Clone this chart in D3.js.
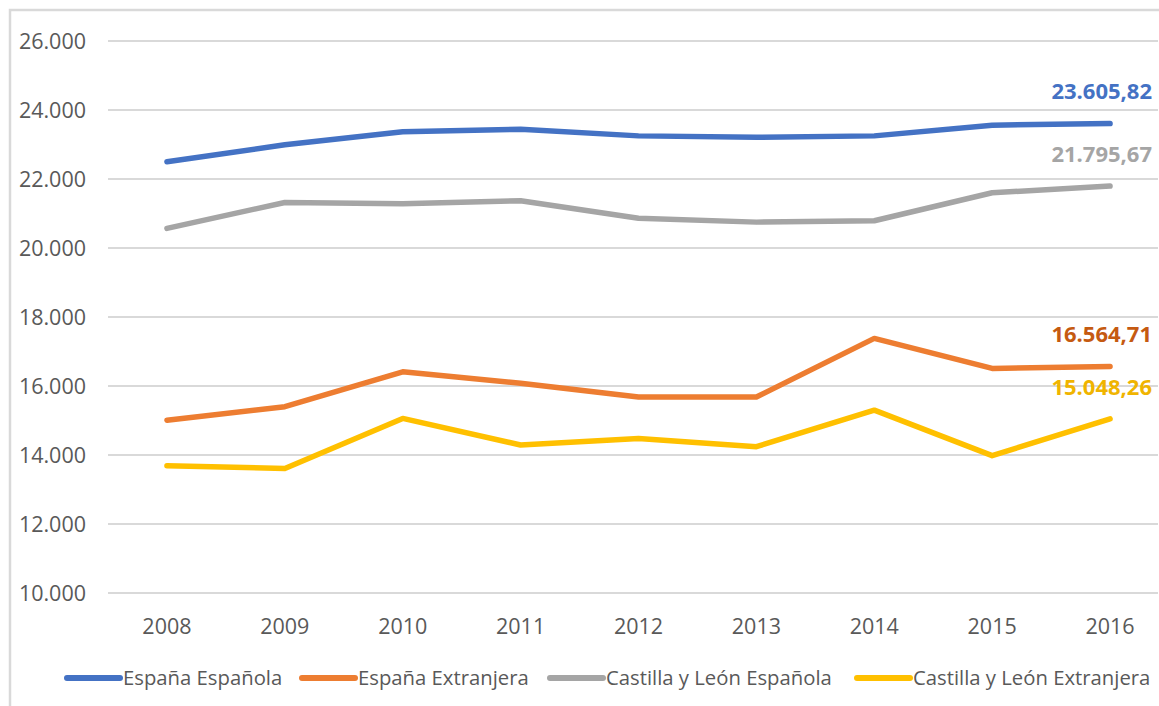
<!DOCTYPE html>
<html><head><meta charset="utf-8">
<script src="https://cdn.jsdelivr.net/npm/d3@7"></script>
<style>body{margin:0;background:#fff;} svg{display:block;}</style>
</head><body>
<svg id="c" width="1159" height="706"></svg>
<script>
const years = ["2008","2009","2010","2011","2012","2013","2014","2015","2016"];
const espanaEspanola   = [22500, 22990, 23370, 23440, 23250, 23210, 23250, 23560, 23605.82];
const espanaExtranjera = [15010, 15400, 16410, 16080, 15680, 15680, 17380, 16510, 16564.71];
const cylEspanola      = [20570, 21320, 21280, 21370, 20860, 20750, 20790, 21600, 21795.67];
const cylExtranjera    = [13690, 13610, 15060, 14290, 14480, 14240, 15300, 13980, 15048.26];
const seriesNames = ["España Española","España Extranjera","Castilla y León Española","Castilla y León Extranjera"];
const yTicks = [10000,12000,14000,16000,18000,20000,22000,24000,26000];
const lastLabels = ["23.605,82","16.564,71","21.795,67","15.048,26"];

const series = [
  {name: seriesNames[0], values: espanaEspanola,   color:"#4472C4", labelColor:"#4472C4", label:lastLabels[0], dy:-32},
  {name: seriesNames[1], values: espanaExtranjera, color:"#ED7D31", labelColor:"#C55A11", label:lastLabels[1], dy:-32},
  {name: seriesNames[2], values: cylEspanola,      color:"#A5A5A5", labelColor:"#A5A5A5", label:lastLabels[2], dy:-32},
  {name: seriesNames[3], values: cylExtranjera,    color:"#FFC000", labelColor:"#F0B400", label:lastLabels[3], dy:-32}
];

const svg = d3.select("#c");
const font = "'Open Sans', 'DejaVu Sans', sans-serif";

// outer border
svg.append("rect").attr("x",10).attr("y",10).attr("width",1170).attr("height",720)
  .attr("fill","none").attr("stroke","#d9d9d9").attr("stroke-width",2.5);

const left = 108, right = 1169;
const x = d3.scaleBand().domain(years).range([left, right]);
const y = d3.scaleLinear().domain([10000, 26000]).range([593, 41]);

const fmt = v => d3.format(",")(v).replace(/,/g, ".");

// gridlines
svg.append("g").selectAll("line").data(yTicks).join("line")
  .attr("x1", left).attr("x2", 1158)
  .attr("y1", d => y(d)).attr("y2", d => y(d))
  .attr("stroke", "#d9d9d9").attr("stroke-width", 2);

// y axis labels
svg.append("g").selectAll("text").data(yTicks).join("text")
  .attr("x", 86).attr("y", d => y(d)).attr("dy","0.35em")
  .attr("text-anchor","end").attr("fill","#595959")
  .style("font-family", font).style("font-size","21.5px")
  .text(d => fmt(d));

// x axis labels
const xAxis = d3.axisBottom(x).tickSize(0).tickPadding(0);
const gx = svg.append("g").attr("transform","translate(0,626)").call(xAxis);
gx.select(".domain").remove();
gx.selectAll("text").attr("dy","0.35em").attr("fill","#595959")
  .style("font-family", font).style("font-size","21.5px");

// lines
const line = d3.line().x((d,i) => x(years[i]) + x.bandwidth()/2).y(d => y(d));
series.forEach(s => {
  svg.append("path").datum(s.values).attr("d", line)
    .attr("fill","none").attr("stroke", s.color).attr("stroke-width", 5.5)
    .attr("stroke-linejoin","round").attr("stroke-linecap","round");
});

// end labels
series.forEach(s => {
  const v = s.values[s.values.length-1];
  svg.append("text").attr("x", 1152).attr("y", y(v) + s.dy).attr("dy","0.35em")
    .attr("text-anchor","end").attr("fill", s.labelColor)
    .style("font-family", font).style("font-size","22px").style("font-weight","bold")
    .text(s.label);
});

// legend
const legendX = [65, 300, 548, 855];
const lg = svg.append("g").attr("transform","translate(0,678)");
series.forEach((s,i) => {
  const g = lg.append("g").attr("transform", `translate(${legendX[i]},0)`);
  g.append("line").attr("x1",2).attr("x2",55).attr("y1",0).attr("y2",0)
    .attr("stroke", s.color).attr("stroke-width",6).attr("stroke-linecap","round");
  g.append("text").attr("x",58).attr("y",0).attr("dy","0.35em").attr("fill","#595959")
    .style("font-family", font).style("font-size","20.3px").text(s.name);
});
</script>
</body></html>
